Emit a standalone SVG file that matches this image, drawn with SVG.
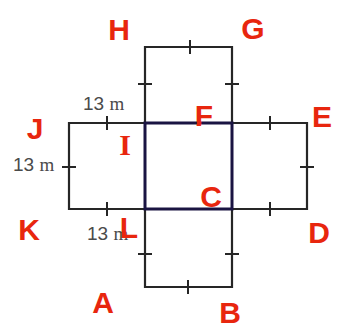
<svg xmlns="http://www.w3.org/2000/svg" width="344" height="329" viewBox="0 0 344 329">
<style>
.edge{fill:none;stroke:#262626;stroke-width:2.2;stroke-linecap:square}
.tick{stroke:#262626;stroke-width:2}
.core{fill:none;stroke:#1a1442;stroke-width:3}
.dim{font-family:"Liberation Sans",Arial,sans-serif;font-size:19px;fill:#4a4a4a}
.m{font-family:"Liberation Serif","Times New Roman",serif;font-size:19px}
.lbl{font-family:"Liberation Sans",Arial,sans-serif;font-size:30px;font-weight:bold;fill:#e8260e;text-anchor:middle}
.ser{font-family:"Liberation Serif","Times New Roman",serif}
</style>
<rect width="344" height="329" fill="#ffffff"/>
<g id="top-square">
<path class="edge" d="M145 123 V47 H232 V123"/>
<line class="tick" x1="138" y1="84" x2="152" y2="84"/>
<line class="tick" x1="225" y1="84" x2="239" y2="84"/>
<line class="tick" x1="190" y1="40" x2="190" y2="54"/>
</g>
<g id="left-square">
<path class="edge" d="M145 123 H69 V209 H145"/>
<line class="tick" x1="107" y1="116" x2="107" y2="130"/>
<line class="tick" x1="107" y1="202" x2="107" y2="216"/>
<line class="tick" x1="62" y1="167" x2="76" y2="167"/>
</g>
<g id="right-square">
<path class="edge" d="M232 123 H307 V209 H232"/>
<line class="tick" x1="270" y1="116" x2="270" y2="130"/>
<line class="tick" x1="270" y1="202" x2="270" y2="216"/>
<line class="tick" x1="300" y1="167" x2="314" y2="167"/>
</g>
<g id="bottom-square">
<path class="edge" d="M145 209 V287 H232 V209"/>
<line class="tick" x1="138" y1="254" x2="152" y2="254"/>
<line class="tick" x1="225" y1="254" x2="239" y2="254"/>
<line class="tick" x1="188" y1="280" x2="188" y2="294"/>
</g>
<g id="center-square">
<rect class="core" x="145" y="123" width="87" height="86"/>
</g>
<g id="dimensions">
<text class="dim" x="83" y="110">13 <tspan class="m">m</tspan></text>
<text class="dim" x="13" y="171">13 <tspan class="m">m</tspan></text>
<text class="dim" x="87" y="240">13 <tspan class="m">m</tspan></text>
</g>
<g id="labels">
<text class="lbl" x="119" y="40">H</text>
<text class="lbl" x="253" y="39">G</text>
<text class="lbl" x="35" y="139">J</text>
<text class="lbl ser" x="125" y="155">I</text>
<text class="lbl" x="204" y="126">F</text>
<text class="lbl" x="322" y="127">E</text>
<text class="lbl" x="29" y="240">K</text>
<text class="lbl" x="129" y="238">L</text>
<text class="lbl" x="211" y="207">C</text>
<text class="lbl" x="319" y="243">D</text>
<text class="lbl" x="103" y="313">A</text>
<text class="lbl" x="230" y="323">B</text>
</g>
</svg>
